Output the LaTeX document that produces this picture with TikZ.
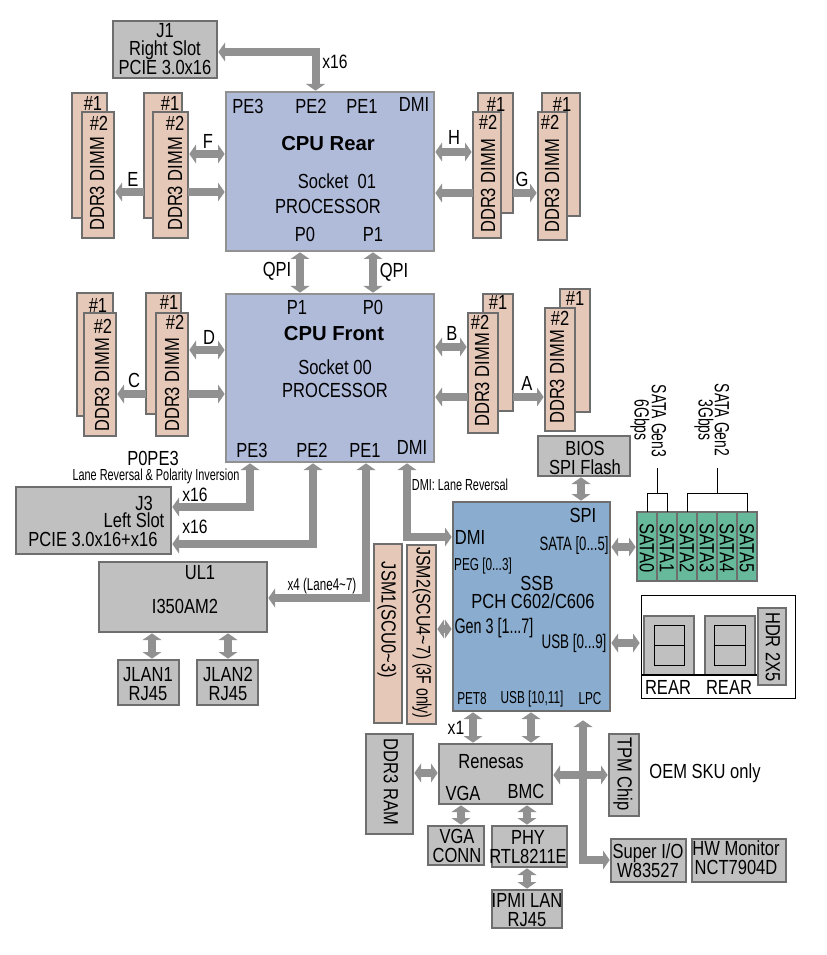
\documentclass[tikz,border=0pt]{standalone}
\usepackage{fontspec}
\setmainfont[FakeStretch=0.81]{Liberation Sans}
\newfontfamily\nrw[FakeStretch=0.68]{Liberation Sans}
\newfontfamily\wdf{Liberation Sans}
\usetikzlibrary{arrows.meta}
\definecolor{busc}{HTML}{919191}
\definecolor{edgec}{HTML}{6E6E6E}
\definecolor{greyc}{HTML}{C0C0C0}
\definecolor{dimmc}{HTML}{E5C8B8}
\definecolor{cpuc}{HTML}{B0BBDA}
\definecolor{pchc}{HTML}{8AADCF}
\definecolor{satac}{HTML}{66B99B}
\tikzset{
  box/.style={draw=edgec,line width=1.7pt,inner sep=0pt,outer sep=0pt},
  grey/.style={box,fill=greyc},
  dimm/.style={box,fill=dimmc},
  cpu/.style={draw=busc,line width=2pt,inner sep=0pt,outer sep=0pt,fill=cpuc},
  pch/.style={box,fill=pchc},
  sata/.style={box,fill=satac},
  wbox/.style={draw=black,line width=0.6pt,inner sep=0pt,outer sep=0pt},
  lbl/.style={inner sep=0pt,outer sep=0pt,font=\fontsize{15.3}{14}\selectfont,align=center},
  sm/.style={font=\fontsize{14.5}{14}\selectfont},
  nr/.style={font=\nrw\fontsize{12}{14}\selectfont},
  nrb/.style={font=\nrw\fontsize{#1}{14}\selectfont},
  bus/.style={draw=busc,line width=6pt,line join=miter,shorten >=1pt,
    -{Triangle[length=5pt,width=14pt]}},
  busd/.style={draw=busc,line width=6pt,line join=miter,shorten >=1pt,shorten <=1pt,
    {Triangle[length=5pt,width=14pt]}-{Triangle[length=5pt,width=14pt]}},
  bracket/.style={draw=black,line width=0.6pt},
  cw/.style={rotate=-90},
  ccw/.style={rotate=90},
}
\newcommand\bx[7][]{\node[#2,#1,minimum width={(#5-#3)*0.75pt},minimum height={(#6-#4)*0.75pt}] (#7) at ({(#3+#5)/2},{(#4+#6)/2}) {};}
\newcommand\lab[4][]{\node[lbl,#1] (#2) at (#3) {#4};}
\begin{document}
\begin{tikzpicture}[x=0.75pt,y=-0.75pt]
\useasboundingbox[fill=white] (0,0) rectangle (826,955);
% DIMMs rear
\bx{dimm}{72}{93}{107}{218}{dEb}\bx{dimm}{82}{112}{114}{238}{dEf}
\bx{dimm}{144}{93}{182}{218}{dFb}\bx{dimm}{153}{112}{188}{238}{dFf}
\bx{dimm}{478}{93}{513}{213}{dHb}\bx{dimm}{473}{112}{501}{238}{dHf}
\bx{dimm}{542}{93}{580}{216}{dGb}\bx{dimm}{538}{112}{567}{240}{dGf}
% DIMMs front
\bx{dimm}{77}{293}{113}{416}{dCb}\bx{dimm}{84}{313}{116}{436}{dCf}
\bx{dimm}{146}{293}{181}{414}{dDb}\bx{dimm}{156}{313}{188}{436}{dDf}
\bx{dimm}{483}{294}{513}{411}{dBb}\bx{dimm}{468}{313}{498}{433}{dBf}
\bx{dimm}{560}{289}{590}{412}{dAb}\bx{dimm}{545}{308}{575}{431}{dAf}
% DIMM labels
\lab{tE1}{93,103}{\#1}\lab{tE2}{99,123}{\#2}\lab[ccw]{tE3}{97,184}{DDR3 DIMM}
\lab{tF1}{170,103}{\#1}\lab{tF2}{175,123}{\#2}\lab[ccw]{tF3}{175,184}{DDR3 DIMM}
\lab{tH1}{496,104}{\#1}\lab{tH2}{488,122}{\#2}\lab[ccw]{tH3}{488,186}{DDR3 DIMM}
\lab{tG1}{562,104}{\#1}\lab{tG2}{550,122}{\#2}\lab[ccw]{tG3}{552,186}{DDR3 DIMM}
\lab{tC1}{98,305}{\#1}\lab{tC2}{103,326}{\#2}\lab[ccw]{tC3}{102,385}{DDR3 DIMM}
\lab{tD1}{169,302}{\#1}\lab{tD2}{175,322}{\#2}\lab[ccw]{tD3}{172,385}{DDR3 DIMM}
\lab{tB1}{498,302}{\#1}\lab{tB2}{480,322}{\#2}\lab[ccw]{tB3}{482,380}{DDR3 DIMM}
\lab{tA1}{575,298}{\#1}\lab{tA2}{560,318}{\#2}\lab[ccw]{tA3}{557,377}{DDR3 DIMM}
% CPUs
\bx{cpu}{226}{92}{434}{251}{cpuR}
\bx{cpu}{226}{294}{434}{462}{cpuF}
\lab{rPE3}{248,106}{PE3}\lab{rPE2}{311,106}{PE2}\lab{rPE1}{362,106}{PE1}\lab{rDMI}{414,104}{DMI}
\lab[font=\wdf\bfseries\fontsize{15.2}{16}\selectfont]{rName}{328,144}{CPU Rear}
\lab{rSock}{337,181}{Socket\ \ 01}\lab{rProc}{328,206}{PROCESSOR}
\lab{rP0}{305,234}{P0}\lab{rP1}{373,234}{P1}
\lab{fP1}{297,307}{P1}\lab{fP0}{373,307}{P0}
\lab[font=\wdf\bfseries\fontsize{15.2}{16}\selectfont]{fName}{334,334}{CPU Front}
\lab{fSock}{335,367}{Socket 00}\lab{fProc}{335,390}{PROCESSOR}
\lab{fPE3}{252,450}{PE3}\lab{fPE2}{312,450}{PE2}\lab{fPE1}{365,450}{PE1}\lab{fDMI}{412,447}{DMI}
% J1
\bx{grey}{113}{21}{217}{78}{j1}
\lab[font=\fontsize{15.3}{13.5}\selectfont]{tj1}{165,49}{J1\\Right Slot\\PCIE 3.0x16}
\lab[sm]{x16a}{335,62}{x16}
\draw[busd] (cpuR.north -| 315.5,0) |- (j1.east |- 0,52);
% QPI
\draw[busd] (cpuR.south -| 300,0) -- (cpuF.north -| 300,0);
\draw[busd] (cpuR.south -| 373,0) -- (cpuF.north -| 373,0);
\lab{qa}{277,271}{QPI}\lab{qb}{394,272}{QPI}
% memory buses rear
\draw[busd] (dFf.east |- 0,154) -- (cpuR.west |- 0,154);
\draw[bus] (dFb.west |- 0,192) -- (dEf.east |- 0,192);
\draw[bus] (dFf.east |- 0,192) -- (cpuR.west |- 0,192);
\lab{lF}{208,141}{F}\lab{lE}{133,179}{E}
\draw[busd] (cpuR.east |- 0,152) -- (dHf.west |- 0,152);
\draw[bus] (dHf.west |- 0,193) -- (cpuR.east |- 0,193);
\draw[bus] (dHb.east |- 0,193) -- (dGf.west |- 0,193);
\lab{lH}{454,137}{H}\lab{lG}{522,179}{G}
% memory buses front
\draw[busd] (dDf.east |- 0,350) -- (cpuF.west |- 0,350);
\draw[bus] (dDb.west |- 0,394) -- (dCf.east |- 0,394);
\draw[bus] (dDf.east |- 0,394) -- (cpuF.west |- 0,394);
\lab{lD}{209,337}{D}\lab{lC}{134,380}{C}
\draw[busd] (cpuF.east |- 0,347) -- (dBf.west |- 0,347);
\draw[bus] (dBf.west |- 0,397) -- (cpuF.east |- 0,397);
\draw[bus] (dBb.east |- 0,397) -- (dAf.west |- 0,397);
\lab{lB}{452,333}{B}\lab{lA}{527,383}{A}
% J3
\bx{grey}{16}{487}{171}{554}{j3}
\lab{j3a}{144,503}{J3}\lab{j3b}{134,520}{Left Slot}\lab{j3c}{93,539}{PCIE 3.0x16+x16}
\lab{pope}{153,458}{P0PE3}
\lab[nr]{lanerev}{156,476}{Lane Reversal \& Polarity Inversion}
\lab[sm]{x16b}{195,495}{x16}\lab[sm]{x16c}{195,527}{x16}
\draw[busd] (cpuF.south -| 250,0) |- (j3.east |- 0,507);
\draw[busd] (cpuF.south -| 313,0) |- (j3.east |- 0,544);
% UL1
\bx{grey}{99}{562}{267}{632}{ul1}
\lab{ula}{200,573}{UL1}\lab{ulb}{185,606}{I350AM2}
\lab[nrb=12.8]{xfour}{322,586}{x4 (Lane4\textasciitilde7)}
\draw[busd] (cpuF.south -| 366,0) |- (ul1.east |- 0,598);
\bx{grey}{118}{660}{179}{705}{jl1}\lab{tjl1}{148,684}{JLAN1\\RJ45}
\bx{grey}{197}{660}{258}{705}{jl2}\lab{tjl2}{228,684}{JLAN2\\RJ45}
\draw[busd] (ul1.south -| 152,0) -- (jl1.north -| 152,0);
\draw[busd] (ul1.south -| 228,0) -- (jl2.north -| 228,0);
% PCH
\bx{pch}{453}{502}{610}{711}{pch}
\draw[busd] (cpuF.south -| 407,0) |- (pch.west |- 0,537);
\lab[nr]{dmilr}{460,485}{DMI: Lane Reversal}
\lab{pSPI}{583,515}{SPI}\lab{pDMI}{470,537}{DMI}
\lab[nrb=14.5]{pSATA}{574,545}{SATA [0...5]}
\lab[nrb=13]{pPEG}{483,566}{PEG [0...3]}
\lab{pSSB}{537,583}{SSB}\lab{pPCH}{533,601}{PCH C602/C606}
\lab[nrb=15.8]{pGen}{494,628}{Gen 3 [1...7]}
\lab[nrb=14.8]{pUSB}{574,643}{USB [0...9]}
\lab[nrb=13]{pPET}{472,699}{PET8}
\lab[nrb=13]{pUSBb}{532,699}{USB [10,11]}
\lab[nrb=13]{pLPC}{590,699}{LPC}
% JSM
\bx{dimm}{374}{544}{402}{723}{jsm1}\bx{dimm}{407}{545}{436}{724}{jsm2}
\lab[cw]{tjsm1}{387,620}{JSM1(SCU0\textasciitilde3)}
\lab[cw,nrb=15.5]{tjsm2}{422,633}{{\rmfamily\fontsize{14.75}{14}\selectfont JSM2(SCU4\textasciitilde7)} (3F only)}
\draw[busd] (jsm2.east |- 0,629) -- (pch.west |- 0,629);
% BIOS
\bx{grey}{538}{436}{630}{476}{bios}
\lab{tbios}{585,458}{BIOS\\SPI Flash}
\draw[busd] (bios.south -| 581,0) -- (pch.north -| 581,0);
% SATA
\bx{sata}{637}{512}{657}{581}{s0}\bx{sata}{657}{512}{677}{581}{s1}\bx{sata}{677}{512}{697}{581}{s2}
\bx{sata}{697}{512}{717}{581}{s3}\bx{sata}{717}{512}{737}{581}{s4}\bx{sata}{737}{512}{757}{581}{s5}
\lab[cw]{ts0}{647,548}{SATA0}\lab[cw]{ts1}{667,548}{SATA1}\lab[cw]{ts2}{687,548}{SATA2}
\lab[cw]{ts3}{707,548}{SATA3}\lab[cw]{ts4}{727,548}{SATA4}\lab[cw]{ts5}{747,548}{SATA5}
\draw[busd] (pch.east |- 0,547) -- (s0.west |- 0,547);
\coordinate (g3) at (657,468);\coordinate (g2) at (717,468);
\draw[bracket] (s0.north) |- (s1.north |- 0,493) -- (s1.north);
\draw[bracket] (s2.north) |- (s5.north |- 0,493) -- (s5.north);
\draw[bracket] (g3) -- (g3 |- 0,493);
\draw[bracket] (g2) -- (g2 |- 0,493);
\lab[cw,nrb=15.4]{g3a}{659,421}{SATA Gen3}\lab[cw,nrb=15.4]{g3b}{640,420}{6Gbps}
\lab[cw,nrb=15.4]{g2a}{722,420}{SATA Gen2}\lab[cw,nrb=15.4]{g2b}{704,420}{3Gbps}
% USB panel
\bx{wbox}{641}{595}{795}{698}{panel}
\bx{grey}{644}{616}{694}{675}{r1}\bx{grey}{705}{616}{755}{675}{r2}
\bx{wbox}{654}{625}{684}{665}{r1i}\bx{wbox}{714}{625}{745}{665}{r2i}
\draw[bracket] (r1i.west) -- (r1i.east);
\draw[bracket] (r2i.west) -- (r2i.east);
\coordinate (rl) at (641,675);\coordinate (rr) at (760,675);
\draw[draw=black,line width=1.6pt] (rl) -- (rr);
\lab{tr1}{668,687}{REAR}\lab{tr2}{729,687}{REAR}
\bx{grey}{758}{608}{786}{685}{hdr}\lab[cw]{thdr}{773,647}{HDR 2X5}
\draw[busd] (pch.east |- 0,643) -- (panel.west |- 0,643);
% Renesas
\bx{grey}{439}{744}{552}{804}{ren}
\lab{tren}{491,762}{Renesas}\lab{tvga}{463,793}{VGA}\lab{tbmc}{526,791}{BMC}
\lab[sm]{xone}{456,728}{x1}
\draw[busd] (pch.south -| 473,0) -- (ren.north -| 473,0);
\draw[busd] (pch.south -| 531,0) -- (ren.north -| 531,0);
\bx{grey}{366}{734}{413}{834}{ram}\lab[cw]{tram}{391,782}{DDR3 RAM}
\draw[busd] (ram.east |- 0,773) -- (ren.west |- 0,773);
\bx{grey}{609}{734}{639}{816}{tpm}\lab[cw]{ttpm}{623,774}{TPM Chip}
\draw[busd] (ren.east |- 0,775) -- (tpm.west |- 0,775);
\lab{oem}{705,773}{OEM SKU only}
\bx{grey}{428}{826}{484}{865}{vga}\lab{tvgac}{457,846}{VGA\\CONN}
\bx{grey}{492}{826}{567}{867}{phy}\lab{tphy}{528,847}{PHY\\RTL8211E}
\bx{grey}{492}{890}{562}{928}{ipmi}\lab{tipmi}{527,910}{IPMI LAN\\RJ45}
\draw[busd] (ren.south -| 461,0) -- (vga.north -| 461,0);
\draw[busd] (ren.south -| 527,0) -- (phy.north -| 527,0);
\draw[busd] (phy.south -| 527,0) -- (ipmi.north -| 527,0);
\bx{grey}{611}{839}{686}{882}{sio}\lab{tsio}{648,861}{Super I/O\\W83527}
\bx{grey}{692}{839}{786}{882}{hwm}\lab{thwm}{736,858}{HW Monitor\\NCT7904D}
\draw[busd,shorten >=7pt] (sio.west |- 0,860) -| (pch.south -| 583,0);
\end{tikzpicture}
\end{document}
